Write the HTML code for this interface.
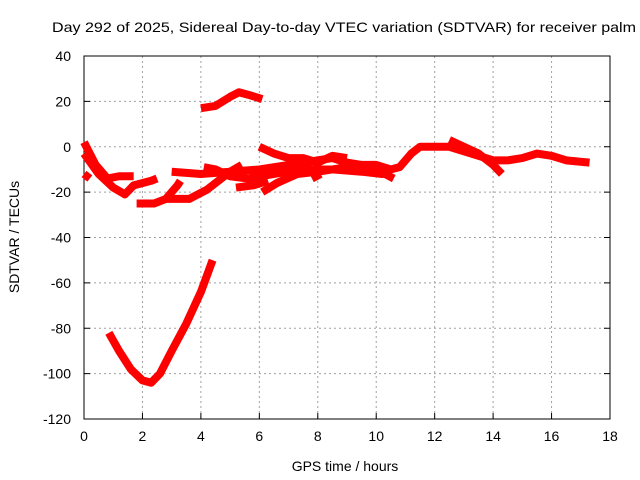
<!DOCTYPE html>
<html><head><meta charset="utf-8"><style>
body{margin:0;background:#fff}
svg{display:block;font-family:"Liberation Sans",sans-serif}
</style></head><body>
<svg id="c" width="640" height="480"></svg>
<script>
const xTicks=[0,2,4,6,8,10,12,14,16,18];
const yTicks=[40,20,0,-20,-40,-60,-80,-100,-120];
const arcSeries=[[0.85,-82],[1.2,-90],[1.6,-98],[2.0,-103],[2.3,-104],[2.6,-100],[3.0,-90],[3.5,-78],[4.0,-64],[4.4,-50]];
const topSeries=[[4.0,17],[4.5,18],[5.0,22],[5.3,24],[5.6,23],[6.1,21]];
const branchA=[[0,2],[0.4,-8],[0.8,-14],[1.2,-13],[1.7,-13]];
const branchB=[[0,-3],[0.5,-12],[1.0,-18],[1.4,-21],[1.7,-17],[2.3,-15],[2.5,-14]];
const branchC=[[0,-12],[0.2,-14]];
const branchD=[[1.8,-25],[2.4,-25],[2.8,-23],[3.2,-17],[3.3,-15]];
const branchD2=[[2.8,-23],[3.6,-23],[4.2,-19],[5.0,-11],[5.4,-8]];
const mainSeries=[[3.0,-11],[4.0,-12],[5.0,-11],[6.0,-10],[7.0,-8],[8.0,-6],[8.5,-5],[9.0,-7],[9.5,-8],[10.0,-8],[10.5,-10],[10.8,-9],[11.2,-3],[11.5,0],[12.5,0],[13.0,-2],[13.5,-4],[14.0,-6],[14.5,-6],[15.0,-5],[15.5,-3],[16.0,-4],[16.5,-6],[17.3,-7]];
const branchF=[[4.1,-9],[4.5,-10],[5.0,-13],[5.6,-14],[6.5,-12],[7.5,-10],[8.5,-10],[9.5,-11],[10.2,-12],[10.5,-11]];
const branchG=[[5.2,-18],[5.8,-17],[6.3,-15]];
const branchH=[[6.1,-20],[6.6,-16],[7.3,-12],[8.0,-11],[9.0,-9],[10.0,-10],[10.6,-14]];
const branchI=[[6.0,0],[6.5,-3],[7.0,-5],[7.5,-5],[8.0,-7],[8.5,-4],[9.0,-5]];
const branchJ=[[12.5,3],[13.0,0],[13.5,-3],[14.0,-8],[14.3,-12]];
const branchK=[[7.8,-14],[8.1,-12]];
const allSeries=[arcSeries,topSeries,branchA,branchB,branchC,branchD,branchD2,mainSeries,branchF,branchG,branchH,branchI,branchJ,branchK];

const L=84,R=610,T=56,B=419;
const X=v=>L+(v-0)/18*(R-L);
const Y=v=>T+(40-v)/160*(B-T);
const s=document.getElementById('c'),NS='http://www.w3.org/2000/svg';
function mk(t,a,txt){const e=document.createElementNS(NS,t);for(const k in a)e.setAttribute(k,a[k]);if(txt!==undefined)e.textContent=txt;s.appendChild(e);return e;}
xTicks.forEach(v=>{
 if(v>0&&v<18){const g=mk('line',{x1:X(v),x2:X(v),y1:T,y2:B,stroke:'#a0a0a0','stroke-dasharray':'2,3'});
 
 }
 const t=mk('line',{x1:X(v),x2:X(v),y1:B,y2:B-6,stroke:'#000'});
 
 
 const l=mk('text',{x:X(v),y:B+22,'text-anchor':'middle','font-size':14},v);
 
 
});
yTicks.forEach(v=>{
 if(v>-120&&v<40){const g=mk('line',{x1:L,x2:R,y1:Y(v),y2:Y(v),stroke:'#a0a0a0','stroke-dasharray':'2,3'});
 
 }
 const t=mk('line',{x1:L,x2:L+6,y1:Y(v),y2:Y(v),stroke:'#000'});
 
 
 const t2=mk('line',{x1:R,x2:R-6,y1:Y(v),y2:Y(v),stroke:'#000'});
 
 
 const l=mk('text',{x:L-13,y:Y(v)+5,'text-anchor':'end','font-size':14},v);
 
 
});
const box=mk('rect',{x:L,y:T,width:R-L,height:B-T,fill:'none',stroke:'#000','stroke-width':1});


allSeries.forEach(sr=>{
 const p=mk('polyline',{points:sr.map(d=>X(d[0])+','+Y(d[1])).join(' '),fill:'none',stroke:'#f00','stroke-width':8,'stroke-linejoin':'round','stroke-linecap':'butt'});
 
 
});
const ti=mk('text',{x:52,y:32,'font-size':14,textLength:584,lengthAdjust:'spacingAndGlyphs'},'Day 292 of 2025, Sidereal Day-to-day VTEC variation (SDTVAR) for receiver palm');


const xt=mk('text',{x:345,y:471,'text-anchor':'middle','font-size':14},'GPS time / hours');


const yt=mk('text',{x:0,y:0,'text-anchor':'middle','font-size':14,transform:'translate(19,237) rotate(-90)'},'SDTVAR / TECUs');


</script>
</body></html>
